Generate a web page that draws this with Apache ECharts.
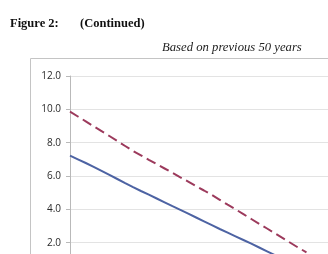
<!DOCTYPE html>
<html>
<head>
<meta charset="utf-8">
<script src="https://cdn.jsdelivr.net/npm/echarts@6/dist/echarts.min.js"></script>
<style>
    html, body {margin: 0; padding: 0; background: #fff; overflow: hidden; width: 328px; height: 254px;}
    #chart {width: 360px; height: 320px;}
</style>
</head>
<body>
<div id="chart"></div>
<script>
// years ahead (index along the hidden x axis)
const years = Array.from({length: 31}, (_, i) => i);
// dashed red series
const upperValues = [9.86, 9.57, 9.28, 8.98, 8.69, 8.40, 8.10, 7.80, 7.50, 7.24,
    6.97, 6.71, 6.45, 6.19, 5.92, 5.66, 5.39, 5.13, 4.86, 4.57,
    4.28, 4.00, 3.71, 3.42, 3.13, 2.85, 2.56, 2.27, 1.98, 1.69, 1.42];
// solid blue series
const lowerValues = [7.22, 7.00, 6.78, 6.55, 6.31, 6.07, 5.82, 5.57, 5.33, 5.10,
    4.88, 4.65, 4.42, 4.19, 3.97, 3.74, 3.51, 3.28, 3.05, 2.82,
    2.60, 2.38, 2.16, 1.94, 1.71, 1.48, 1.25, 1.02, 0.80, 0.58, 0.36];
const yTicks = [0, 2, 4, 6, 8, 10, 12];

const chart = echarts.init(document.getElementById("chart"));

chart.setOption({
    animation: false,
    title: [
        {text: "Figure 2:", left: 10, top: 17, padding: 0,
            textStyle: {fontFamily: "Liberation Serif", fontWeight: "bold", fontSize: 12.5, color: "#111"}},
        {text: "(Continued)", left: 80, top: 17, padding: 0,
            textStyle: {fontFamily: "Liberation Serif", fontWeight: "bold", fontSize: 12.5, color: "#111"}},
        {text: "Based on previous 50 years", left: 162, top: 41, padding: 0,
            textStyle: {fontFamily: "Liberation Serif", fontStyle: "italic", fontWeight: "normal", fontSize: 12.7, color: "#222"}}
    ],
    graphic: [{
        type: "polyline",
        shape: {points: [[30.5, 320], [30.5, 58.5], [360, 58.5]]},
        style: {stroke: "#c4c4c4", lineWidth: 1, fill: null}
    }],
    grid: {left: 70, top: 76, right: 22, bottom: 44},
    xAxis: {
        type: "value",
        min: 0,
        max: 34,
        show: false
    },
    yAxis: {
        type: "value",
        min: yTicks[0],
        max: yTicks[yTicks.length - 1],
        interval: 2,
        axisLine: {show: true, lineStyle: {color: "#b9b9b9", width: 1}},
        axisTick: {show: true, length: 4, lineStyle: {color: "#b9b9b9"}},
        axisLabel: {
            margin: 9,
            fontFamily: "Open Sans",
            fontSize: 10,
            color: "#2a2a2a",
            formatter: v => v.toFixed(1)
        },
        splitLine: {lineStyle: {color: "#e3e3e3", width: 1}}
    },
    series: [
        {
            name: "upper",
            type: "line",
            showSymbol: false,
            data: years.map((x, i) => [x, upperValues[i]]),
            lineStyle: {color: "#9c3a5c", width: 2, type: [10, 5]}
        },
        {
            name: "lower",
            type: "line",
            showSymbol: false,
            data: years.map((x, i) => [x, lowerValues[i]]),
            lineStyle: {color: "#4d63a3", width: 2}
        }
    ]
});
</script>
</body>
</html>
